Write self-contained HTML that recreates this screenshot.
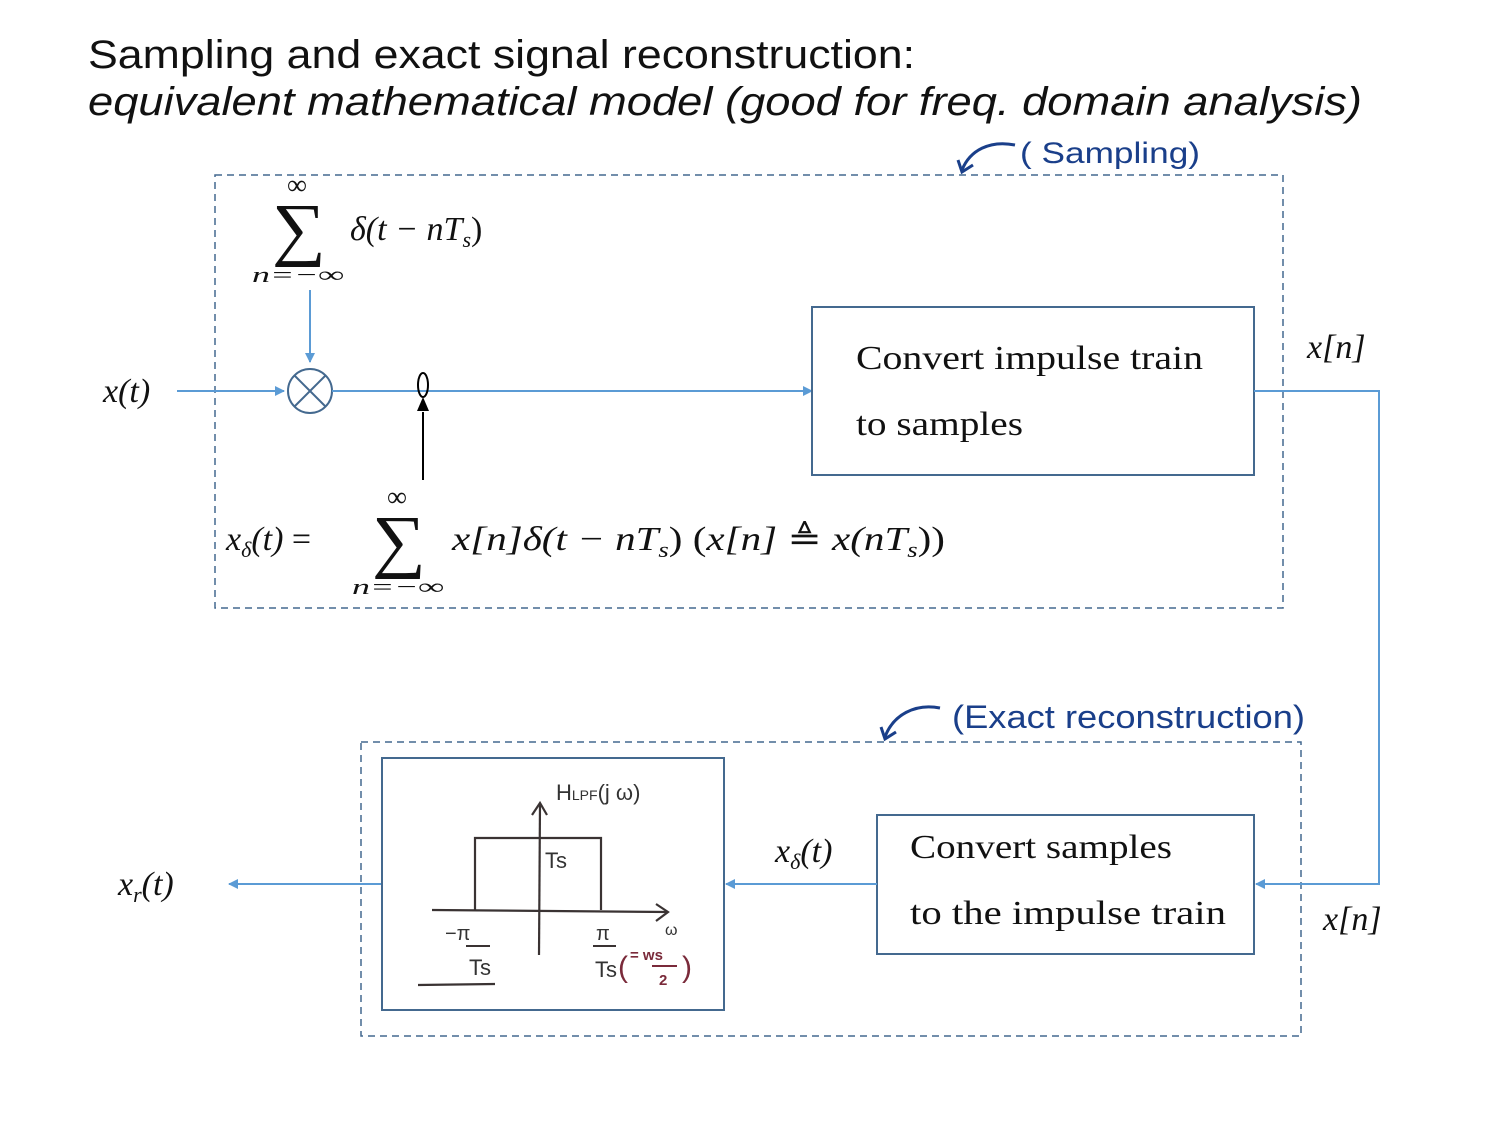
<!DOCTYPE html>
<html><head><meta charset="utf-8"><style>
html,body{margin:0;padding:0;background:#fff;width:1500px;height:1125px;overflow:hidden}
svg{display:block}
.m{font-family:"Liberation Serif",serif;font-style:italic;fill:#111}
.r{font-family:"Liberation Serif",serif;fill:#111}
.h{font-family:"Liberation Sans",sans-serif;fill:#1a3f8a}
.hd{font-family:"Liberation Sans",sans-serif;fill:#333}
</style></head><body>
<svg width="1500" height="1125" viewBox="0 0 1500 1125" xmlns="http://www.w3.org/2000/svg">
<defs>
<marker id="ab" markerWidth="10" markerHeight="10" refX="9" refY="5" orient="auto" markerUnits="userSpaceOnUse"><path d="M0,0 L10,5 L0,10 z" fill="#5b9bd5"/></marker>
</defs>
<text x="88" y="68" font-family="Liberation Sans,sans-serif" font-size="40" fill="#111" textLength="827" lengthAdjust="spacingAndGlyphs">Sampling and exact signal reconstruction:</text>
<text x="88" y="115" font-family="Liberation Sans,sans-serif" font-size="40" font-style="italic" fill="#111" textLength="1274" lengthAdjust="spacingAndGlyphs">equivalent mathematical model (good for freq. domain analysis)</text>

<path d="M1015,145 C990,140 970,150 962,170" stroke="#1a3f8a" stroke-width="3" fill="none"/>
<path d="M958,160 L962,172 L973,165" stroke="#1a3f8a" stroke-width="3" fill="none"/>
<text x="1020" y="163" class="h" font-size="30" textLength="180" lengthAdjust="spacingAndGlyphs">( Sampling)</text>
<path d="M940,708 C915,703 893,715 885,737" stroke="#1a3f8a" stroke-width="3" fill="none"/>
<path d="M881,727 L885,739 L896,732" stroke="#1a3f8a" stroke-width="3" fill="none"/>
<text x="952" y="728" class="h" font-size="32" textLength="353" lengthAdjust="spacingAndGlyphs">(Exact  reconstruction)</text>

<rect x="215" y="175" width="1068" height="433" fill="none" stroke="#44698f" stroke-width="1.5" stroke-dasharray="7,5"/>
<rect x="361" y="742" width="940" height="294" fill="none" stroke="#44698f" stroke-width="1.5" stroke-dasharray="7,5"/>

<!-- top sum -->
<text x="287" y="194" class="r" font-size="28">∞</text>
<text x="272" y="252" class="r" font-size="70" textLength="54" lengthAdjust="spacingAndGlyphs">∑</text>
<text x="252" y="282" class="m" font-size="22" textLength="92" lengthAdjust="spacingAndGlyphs">n=−∞</text>
<text x="350" y="240" class="m" font-size="34">δ(t − nT<tspan font-size="22" dy="7">s</tspan><tspan dy="-7" font-style="normal">)</tspan></text>
<line x1="310" y1="290" x2="310" y2="362" stroke="#5b9bd5" stroke-width="2" marker-end="url(#ab)"/>

<text x="103" y="402" class="m" font-size="34">x(t)</text>
<line x1="177" y1="391" x2="284" y2="391" stroke="#5b9bd5" stroke-width="2" marker-end="url(#ab)"/>
<circle cx="310" cy="391" r="22" fill="#fff" stroke="#44698f" stroke-width="2"/>
<line x1="294" y1="375" x2="326" y2="407" stroke="#44698f" stroke-width="2"/>
<line x1="326" y1="375" x2="294" y2="407" stroke="#44698f" stroke-width="2"/>
<line x1="332" y1="391" x2="812" y2="391" stroke="#5b9bd5" stroke-width="2" marker-end="url(#ab)"/>
<ellipse cx="423" cy="385" rx="5" ry="12" fill="none" stroke="#000" stroke-width="2"/>
<line x1="423" y1="480" x2="423" y2="412" stroke="#000" stroke-width="2"/>
<path d="M417,411 L429,411 L423,397 z" fill="#000"/>

<rect x="812" y="307" width="442" height="168" fill="#fff" stroke="#44698f" stroke-width="2"/>
<text x="856" y="369" class="r" font-size="34" textLength="347" lengthAdjust="spacingAndGlyphs">Convert impulse train</text>
<text x="856" y="435" class="r" font-size="34" textLength="167" lengthAdjust="spacingAndGlyphs">to samples</text>
<text x="1307" y="358" class="m" font-size="34">x[n]</text>
<polyline points="1254,391 1379,391 1379,884 1256,884" fill="none" stroke="#5b9bd5" stroke-width="2" marker-end="url(#ab)"/>

<text x="226" y="550" class="m" font-size="34">x<tspan font-size="22" dy="7">δ</tspan><tspan dy="-7">(t) </tspan><tspan font-style="normal">=</tspan></text>
<text x="387" y="506" class="r" font-size="28">∞</text>
<text x="372" y="564" class="r" font-size="70" textLength="54" lengthAdjust="spacingAndGlyphs">∑</text>
<text x="352" y="594" class="m" font-size="22" textLength="92" lengthAdjust="spacingAndGlyphs">n=−∞</text>
<text x="452" y="550" class="m" font-size="34" textLength="493" lengthAdjust="spacingAndGlyphs">x[n]δ(t − nT<tspan font-size="22" dy="7">s</tspan><tspan dy="-7" font-style="normal">)   (</tspan>x[n] <tspan font-style="normal">≜</tspan> x(nT<tspan font-size="22" dy="7">s</tspan><tspan dy="-7" font-style="normal">))</tspan></text>

<rect x="877" y="815" width="377" height="139" fill="#fff" stroke="#44698f" stroke-width="2"/>
<text x="910" y="858" class="r" font-size="34" textLength="262" lengthAdjust="spacingAndGlyphs">Convert samples</text>
<text x="910" y="924" class="r" font-size="34" textLength="316" lengthAdjust="spacingAndGlyphs">to the impulse train</text>
<text x="1323" y="930" class="m" font-size="34">x[n]</text>
<text x="775" y="862" class="m" font-size="34">x<tspan font-size="22" dy="7">δ</tspan><tspan dy="-7">(t)</tspan></text>
<line x1="877" y1="884" x2="726" y2="884" stroke="#5b9bd5" stroke-width="2" marker-end="url(#ab)"/>
<line x1="382" y1="884" x2="229" y2="884" stroke="#5b9bd5" stroke-width="2" marker-end="url(#ab)"/>
<text x="118" y="895" class="m" font-size="34">x<tspan font-size="22" dy="7">r</tspan><tspan dy="-7">(t)</tspan></text>

<rect x="382" y="758" width="342" height="252" fill="#fff" stroke="#44698f" stroke-width="2"/>
<g stroke="#3a3333" stroke-width="2.2" fill="none">
<line x1="432" y1="910" x2="668" y2="912"/>
<polyline points="656,904 668,912 656,921"/>
<line x1="539" y1="955" x2="540" y2="803"/>
<polyline points="532,815 540,803 547,815"/>
<polyline points="475,910 475,838 601,838 601,910"/>
<line x1="418" y1="985" x2="495" y2="984"/>
</g>
<text x="556" y="800" class="hd" font-size="22">H<tspan font-size="14">LPF</tspan>(j ω)</text>
<text x="545" y="868" class="hd" font-size="22">Ts</text>
<text x="445" y="940" class="hd" font-size="20">−π</text>
<line x1="466" y1="946" x2="490" y2="946" stroke="#3a3333" stroke-width="2"/>
<text x="469" y="975" class="hd" font-size="22">Ts</text>
<text x="596" y="940" class="hd" font-size="20">π</text>
<line x1="593" y1="946" x2="616" y2="946" stroke="#3a3333" stroke-width="2"/>
<text x="595" y="977" class="hd" font-size="22">Ts</text>
<text x="665" y="935" class="hd" font-size="16">ω</text>
<text x="618" y="977" font-family="Liberation Sans,sans-serif" font-size="30" fill="#7a2a3a">(</text>
<text x="630" y="960" font-family="Liberation Sans,sans-serif" font-size="15" font-weight="bold" fill="#7a2a3a">= ws</text>
<line x1="652" y1="966" x2="677" y2="966" stroke="#7a2a3a" stroke-width="2"/>
<text x="659" y="985" font-family="Liberation Sans,sans-serif" font-size="15" font-weight="bold" fill="#7a2a3a">2</text>
<text x="682" y="977" font-family="Liberation Sans,sans-serif" font-size="30" fill="#7a2a3a">)</text>
</svg>
</body></html>
